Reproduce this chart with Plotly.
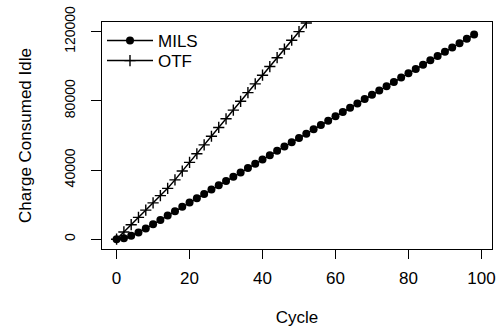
import plotly.graph_objects as go

mils_cycle = list(range(0, 100, 2))
mils_charge = [0, 600, 2000, 3900, 6200, 8600, 11100, 13700, 16200, 18700,
               21200, 23700, 26200, 28700, 31200, 33650, 36100, 38600, 41100, 43600,
               46100, 48600, 51100, 53600, 56100, 58550, 61000, 63500, 66000, 68500,
               71000, 73500, 76000, 78500, 81000, 83450, 85900, 88400, 90900, 93400,
               95900, 98400, 100900, 103400, 105900, 108350, 110800, 113300, 115800, 118300]

otf_cycle = list(range(0, 54, 2))
otf_charge = [0, 4200, 8400, 12600, 16800, 21000, 25200, 29400, 34300, 39400,
              44400, 49400, 54500, 59500, 64600, 69600, 74600, 79700, 84700, 89800,
              94800, 99800, 104900, 109900, 115000, 120000, 125000]

x_ticks = [0, 20, 40, 60, 80, 100]
y_ticks = [0, 40000, 80000, 120000]
y_tick_text = ["0", "40000", "80000", "120000"]

FONT = "Liberation Sans, Arial, sans-serif"

fig = go.Figure()
fig.add_trace(go.Scatter(
    x=mils_cycle, y=mils_charge, name="MILS", mode="lines+markers",
    line=dict(color="black", width=1.5),
    marker=dict(symbol="circle", size=8, color="black"),
    legend="legend",
))
fig.add_trace(go.Scatter(
    x=otf_cycle, y=otf_charge, name="OTF", mode="lines+markers",
    line=dict(color="black", width=1.5),
    marker=dict(symbol="cross-thin", size=8, line=dict(color="black", width=1.4)),
    legend="legend2",
))

leg_common = dict(x=0.0, xanchor="left", yanchor="middle",
                  bgcolor="rgba(0,0,0,0)", borderwidth=0,
                  font=dict(size=17, family=FONT, color="black"),
                  itemwidth=46)

fig.update_layout(
    template="none",
    width=504, height=331,
    margin=dict(l=102, r=12, t=22, b=82),
    paper_bgcolor="white", plot_bgcolor="white",
    font=dict(family=FONT, color="black", size=14),
    showlegend=True,
    legend=dict(y=0.916, **leg_common),
    legend2=dict(y=0.828, **leg_common),
    xaxis=dict(
        range=[-4, 102.9], tickvals=x_ticks, ticks="outside", ticklen=9,
        tickcolor="black", showline=True, linecolor="black", linewidth=1,
        mirror=True, showgrid=False, zeroline=False, automargin=False,
        tickfont=dict(size=17), ticklabelstandoff=5,
        title=dict(text="Cycle", font=dict(size=17), standoff=23),
    ),
    yaxis=dict(
        range=[-5650, 125540], tickvals=y_ticks, ticktext=y_tick_text,
        ticks="outside", ticklen=10, tickcolor="black", tickangle=-90,
        showline=True, linecolor="black", linewidth=1, mirror=True,
        showgrid=False, zeroline=False, automargin=False,
        tickfont=dict(size=14), ticklabelstandoff=10,
        title=dict(text="Charge Consumed Idle", font=dict(size=17), standoff=26),
    ),
)

fig.write_html("out.html")
